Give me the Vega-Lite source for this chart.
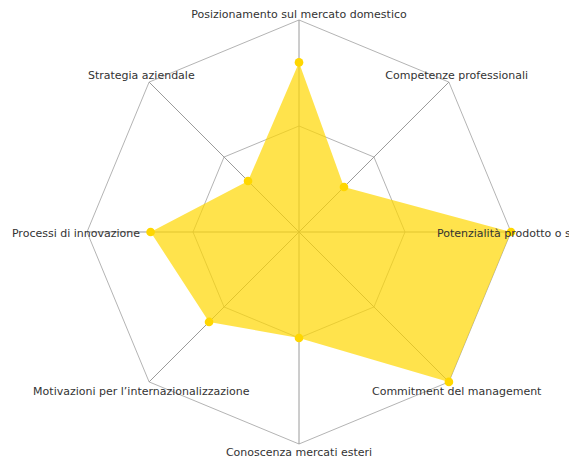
{
  "$schema": "https://vega.github.io/schema/vega-lite/v6.json",
  "width": 569,
  "height": 460,
  "padding": 0,
  "autosize": {"type": "none"},
  "background": "white",
  "config": {"view": {"stroke": null}},
  "datasets": {
    "axes": [
      {"name": "Posizionamento sul mercato domestico", "idx": 0, "value": 8},
      {"name": "Competenze professionali", "idx": 1, "value": 3},
      {"name": "Potenzialità prodotto o servizio", "idx": 2, "value": 10},
      {"name": "Commitment del management", "idx": 3, "value": 10},
      {"name": "Conoscenza mercati esteri", "idx": 4, "value": 5},
      {"name": "Motivazioni per l’internazionalizzazione", "idx": 5, "value": 6},
      {"name": "Processi di innovazione", "idx": 6, "value": 7},
      {"name": "Strategia aziendale", "idx": 7, "value": 3.4}
    ],
    "rings": [
      {"idx": 0, "level": 5}, {"idx": 1, "level": 5}, {"idx": 2, "level": 5}, {"idx": 3, "level": 5},
      {"idx": 4, "level": 5}, {"idx": 5, "level": 5}, {"idx": 6, "level": 5}, {"idx": 7, "level": 5},
      {"idx": 0, "level": 10}, {"idx": 1, "level": 10}, {"idx": 2, "level": 10}, {"idx": 3, "level": 10},
      {"idx": 4, "level": 10}, {"idx": 5, "level": 10}, {"idx": 6, "level": 10}, {"idx": 7, "level": 10}
    ]
  },
  "layer": [
    {
      "data": {"name": "rings"},
      "transform": [
        {"calculate": "datum.idx * PI / 4", "as": "a"},
        {"calculate": "datum.level * sin(datum.a)", "as": "x"},
        {"calculate": "datum.level * cos(datum.a)", "as": "y"},
        {"calculate": "datum.level * sin(datum.a + PI / 4)", "as": "x2"},
        {"calculate": "datum.level * cos(datum.a + PI / 4)", "as": "y2"}
      ],
      "mark": {"type": "rule", "stroke": "#b4b4b4", "strokeWidth": 1},
      "encoding": {
        "x": {"field": "x", "type": "quantitative", "scale": {"domain": [-14.104, 12.736], "nice": false, "zero": false}, "axis": null},
        "y": {"field": "y", "type": "quantitative", "scale": {"domain": [-10.755, 10.943], "nice": false, "zero": false}, "axis": null},
        "x2": {"field": "x2"},
        "y2": {"field": "y2"}
      }
    },
    {
      "data": {"name": "axes"},
      "transform": [
        {"calculate": "datum.idx * PI / 4", "as": "a"},
        {"calculate": "0", "as": "x0"},
        {"calculate": "10 * sin(datum.a)", "as": "x"},
        {"calculate": "10 * cos(datum.a)", "as": "y"}
      ],
      "mark": {"type": "rule", "stroke": "#9a9a9a", "strokeWidth": 1},
      "encoding": {
        "x": {"field": "x0", "type": "quantitative", "scale": {"domain": [-14.104, 12.736], "nice": false, "zero": false}, "axis": null},
        "y": {"field": "x0", "type": "quantitative", "scale": {"domain": [-10.755, 10.943], "nice": false, "zero": false}, "axis": null},
        "x2": {"field": "x"},
        "y2": {"field": "y"}
      }
    },
    {
      "data": {"name": "axes"},
      "transform": [
        {"calculate": "datum.idx * PI / 4", "as": "a"},
        {"calculate": "datum.value * sin(datum.a)", "as": "x"},
        {"calculate": "datum.value * cos(datum.a)", "as": "y"}
      ],
      "mark": {"type": "line", "fill": "#FFD700", "fillOpacity": 0.7, "strokeWidth": 0, "strokeOpacity": 0},
      "encoding": {
        "x": {"field": "x", "type": "quantitative", "scale": {"domain": [-14.104, 12.736], "nice": false, "zero": false}, "axis": null},
        "y": {"field": "y", "type": "quantitative", "scale": {"domain": [-10.755, 10.943], "nice": false, "zero": false}, "axis": null},
        "order": {"field": "idx", "type": "quantitative"}
      }
    },
    {
      "data": {"name": "axes"},
      "transform": [
        {"calculate": "datum.idx * PI / 4", "as": "a"},
        {"calculate": "datum.value * sin(datum.a)", "as": "x"},
        {"calculate": "datum.value * cos(datum.a)", "as": "y"}
      ],
      "mark": {"type": "point", "filled": true, "color": "#FFD700", "opacity": 1, "size": 75},
      "encoding": {
        "x": {"field": "x", "type": "quantitative", "scale": {"domain": [-14.104, 12.736], "nice": false, "zero": false}, "axis": null},
        "y": {"field": "y", "type": "quantitative", "scale": {"domain": [-10.755, 10.943], "nice": false, "zero": false}, "axis": null}
      }
    },
    {
      "data": {"name": "axes"},
      "transform": [
        {"calculate": "datum.idx * PI / 4", "as": "a"},
        {"calculate": "datum.idx % 4 == 0 ? 10.33 : 10.52", "as": "r"},
        {"calculate": "datum.r * sin(datum.a)", "as": "x"},
        {"calculate": "datum.r * cos(datum.a)", "as": "y"}
      ],
      "mark": {"type": "text", "align": "center", "baseline": "middle", "dy": 2, "font": "DejaVu Sans", "fontSize": 11, "color": "#333333"},
      "encoding": {
        "x": {"field": "x", "type": "quantitative", "scale": {"domain": [-14.104, 12.736], "nice": false, "zero": false}, "axis": null},
        "y": {"field": "y", "type": "quantitative", "scale": {"domain": [-10.755, 10.943], "nice": false, "zero": false}, "axis": null},
        "text": {"field": "name"}
      }
    }
  ]
}
